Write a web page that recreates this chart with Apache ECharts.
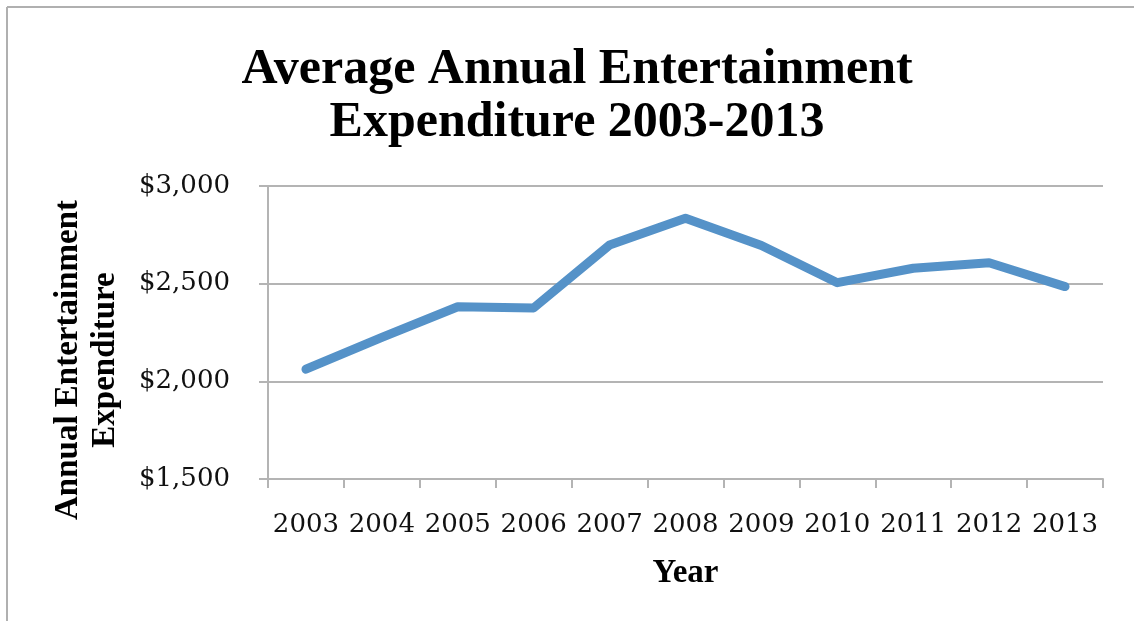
<!DOCTYPE html>
<html>
<head>
<meta charset="utf-8">
<script src="https://cdn.jsdelivr.net/npm/echarts@6/dist/echarts.min.js"></script>
<style>
  html, body { margin: 0; padding: 0; background: #ffffff; }
  #chart { width: 1134px; height: 621px; }
</style>
</head>
<body>
<div id="chart"></div>
<script>
// Years shown along the category axis
const years = ['2003', '2004', '2005', '2006', '2007', '2008', '2009', '2010', '2011', '2012', '2013'];
// Average annual entertainment spending, in dollars
const spending = [2062, 2225, 2382, 2376, 2698, 2835, 2695, 2505, 2579, 2607, 2485];
// Value axis range and step
const yMin = 1500;
const yMax = 3000;
const yStep = 500;

const titleText = 'Average Annual Entertainment\nExpenditure 2003-2013';
const yTitle = 'Annual Entertainment\nExpenditure';
const xTitle = 'Year';

const gridGray = '#b4b4b4';
const labelFont = 'DejaVu Serif';
const headFont = 'Liberation Serif';

const chart = echarts.init(document.getElementById('chart'), null, { renderer: 'canvas' });

chart.setOption({
  backgroundColor: '#ffffff',
  animation: false,
  title: {
    text: titleText,
    left: 572,
    top: 39,
    textAlign: 'center',
    textStyle: {
      fontFamily: headFont,
      fontWeight: 'bold',
      fontSize: 50,
      lineHeight: 53,
      color: '#000000'
    }
  },
  grid: { left: 268, right: 31, top: 186, bottom: 142, containLabel: false },
  xAxis: {
    type: 'category',
    data: years,
    boundaryGap: true,
    name: xTitle,
    nameLocation: 'middle',
    nameGap: 78,
    nameTextStyle: {
      fontFamily: headFont,
      fontWeight: 'bold',
      fontSize: 33,
      color: '#000000'
    },
    axisLine: { show: true, lineStyle: { color: gridGray, width: 2 } },
    axisTick: { show: true, inside: false, length: 9, alignWithLabel: false, lineStyle: { color: gridGray, width: 2 } },
    axisLabel: {
      interval: 0,
      margin: 33,
      fontFamily: labelFont,
      fontSize: 26,
      color: '#111111'
    },
    splitLine: { show: false }
  },
  yAxis: {
    type: 'value',
    min: yMin,
    max: yMax,
    interval: yStep,
    axisLine: { show: true, lineStyle: { color: gridGray, width: 2 } },
    axisTick: { show: true, inside: false, length: 9, lineStyle: { color: gridGray, width: 2 } },
    axisLabel: {
      margin: 38,
      fontFamily: labelFont,
      fontSize: 26,
      color: '#111111',
      formatter: function (v) { return '$' + v.toLocaleString('en-US'); }
    },
    splitLine: { show: true, lineStyle: { color: gridGray, width: 2 } }
  },
  graphic: [
    // outer frame: top and left edges
    { type: 'line', shape: { x1: 7, y1: 7, x2: 1134, y2: 7 }, style: { stroke: '#b0b0b0', lineWidth: 2 }, silent: true },
    { type: 'line', shape: { x1: 7, y1: 7, x2: 7, y2: 621 }, style: { stroke: '#b0b0b0', lineWidth: 2 }, silent: true },
    // rotated value-axis title
    {
      type: 'text',
      x: 87,
      y: 360,
      rotation: Math.PI / 2,
      style: {
        text: yTitle,
        fontFamily: headFont,
        fontWeight: 'bold',
        fontSize: 33,
        lineHeight: 37,
        fill: '#000000',
        align: 'center',
        verticalAlign: 'middle'
      },
      silent: true
    }
  ],
  series: [
    {
      type: 'line',
      data: spending,
      symbol: 'none',
      smooth: false,
      lineStyle: { color: '#5592c8', width: 9, cap: 'round', join: 'round' },
      itemStyle: { color: '#5592c8' }
    }
  ]
});
</script>
</body>
</html>
